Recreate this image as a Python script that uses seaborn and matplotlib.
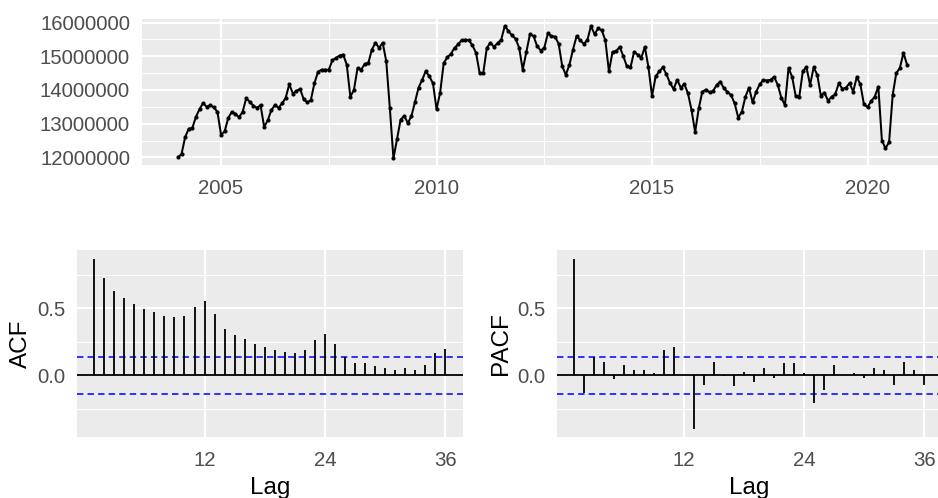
import numpy as np
import pandas as pd
import matplotlib
matplotlib.use("Agg")
import matplotlib.pyplot as plt
import seaborn as sns
from matplotlib.ticker import FixedLocator, FuncFormatter

# Monthly series (millions), January 2004 to December 2020
start_year = 2004
series_millions = [
    12.00, 12.10, 12.60, 12.85, 12.87, 13.20, 13.43, 13.61, 13.50, 13.55, 13.48, 13.35,
    12.67, 12.77, 13.17, 13.35, 13.29, 13.19, 13.35, 13.75, 13.65, 13.53, 13.47, 13.55,
    12.90, 13.10, 13.40, 13.55, 13.47, 13.60, 13.77, 14.17, 13.89, 13.97, 14.03, 13.73,
    13.63, 13.70, 14.20, 14.54, 14.60, 14.60, 14.60, 14.88, 14.95, 15.02, 15.05, 14.75,
    13.80, 14.00, 14.65, 14.60, 14.77, 14.80, 15.20, 15.40, 15.25, 15.40, 14.85, 13.45,
    11.97, 12.55, 13.12, 13.23, 13.02, 13.22, 13.65, 14.07, 14.30, 14.56, 14.40, 14.20,
    13.43, 13.92, 14.80, 14.97, 15.07, 15.25, 15.35, 15.48, 15.49, 15.48, 15.32, 15.10,
    14.50, 14.50, 15.25, 15.40, 15.28, 15.39, 15.49, 15.90, 15.75, 15.62, 15.52, 15.25,
    14.60, 15.13, 15.65, 15.60, 15.30, 15.17, 15.25, 15.68, 15.60, 15.58, 15.37, 14.70,
    14.45, 14.75, 15.20, 15.60, 15.47, 15.37, 15.48, 15.90, 15.65, 15.83, 15.77, 15.47,
    14.55, 15.13, 15.15, 15.28, 15.00, 14.70, 14.67, 15.13, 15.05, 14.95, 15.28, 14.67,
    13.82, 14.40, 14.55, 14.67, 14.47, 14.20, 14.03, 14.30, 14.07, 14.17, 13.90, 13.40,
    12.75, 13.45, 13.95, 14.01, 13.93, 13.97, 14.15, 14.25, 14.05, 13.94, 13.85, 13.60,
    13.18, 13.35, 13.80, 14.07, 13.63, 13.95, 14.17, 14.30, 14.28, 14.30, 14.39, 14.15,
    13.77, 13.55, 14.65, 14.39, 13.82, 13.80, 14.57, 14.67, 14.15, 14.67, 14.45, 13.83,
    13.92, 13.68, 13.80, 13.87, 14.20, 14.03, 14.07, 14.20, 13.95, 14.38, 14.17, 13.57,
    13.49, 13.67, 13.80, 14.10, 12.50, 12.27, 12.45, 13.85, 14.50, 14.65, 15.10, 14.75,
]

# Autocorrelations, lags 1..36
lags = list(range(1, 37))
acf_values = [
    0.872, 0.728, 0.630, 0.580, 0.533, 0.495, 0.470, 0.445, 0.433, 0.445, 0.508, 0.555,
    0.458, 0.348, 0.298, 0.275, 0.238, 0.213, 0.188, 0.175, 0.165, 0.188, 0.263, 0.310,
    0.238, 0.140, 0.090, 0.090, 0.068, 0.055, 0.043, 0.055, 0.043, 0.080, 0.165, 0.200,
]
pacf_values = [
    0.872, -0.128, 0.135, 0.100, -0.028, 0.078, 0.040, 0.040, 0.015, 0.188, 0.213, 0.004,
    -0.398, -0.068, 0.100, -0.004, -0.080, 0.028, -0.048, 0.053, -0.018, 0.090, 0.090, 0.015,
    -0.203, -0.105, 0.078, 0.004, 0.015, -0.018, 0.053, 0.040, -0.068, 0.100, 0.040, -0.068,
]
time_ticks = [2005, 2010, 2015, 2020]
value_ticks = [12000000, 13000000, 14000000, 15000000, 16000000]
lag_ticks = [12, 24, 36]
corr_ticks = [0.0, 0.5]

sns.set_theme(style="darkgrid")
plt.rcParams["font.family"] = ["Liberation Sans", "DejaVu Sans"]
plt.rcParams["lines.scale_dashes"] = False

PANEL = "#EBEBEB"
TICK_COL = "#333333"
LABEL_COL = "#4D4D4D"
TICK_SIZE = 14.7
TITLE_SIZE = 17.5

W, H = 938, 498
fig = plt.figure(figsize=(W / 100, H / 100), dpi=100)


def box(left, top, right, bottom):
    return [left / W, 1 - bottom / H, (right - left) / W, (bottom - top) / H]


def expand(lo, hi, frac=0.05):
    span = hi - lo
    return lo - frac * span, hi + frac * span


def style_axes(ax):
    ax.set_facecolor(PANEL)
    for s in ax.spines.values():
        s.set_visible(False)
    ax.grid(False)
    ax.grid(which="major", color="white", linewidth=1.45)
    ax.grid(which="minor", color="white", linewidth=0.75)
    ax.set_axisbelow(True)
    ax.tick_params(which="major", length=4.7, width=1.05, color=TICK_COL,
                   labelcolor=LABEL_COL, labelsize=TICK_SIZE)
    ax.tick_params(axis="y", pad=3.5)
    ax.tick_params(axis="x", pad=5.5)
    ax.tick_params(which="minor", length=0)


# ---- time series panel ----
ax_ts = fig.add_axes(box(141.5, 19.3, 943.5, 165))
n = len(series_millions)
df = pd.DataFrame({
    "time": start_year + np.arange(n) / 12.0,
    "value": np.array(series_millions) * 1e6,
})
sns.lineplot(data=df, x="time", y="value", ax=ax_ts, color="black", linewidth=1.45)
sns.scatterplot(data=df, x="time", y="value", ax=ax_ts, color="black", s=9,
                linewidth=0, zorder=3)
ax_ts.set_xlim(*expand(df.time.min(), df.time.max()))
ax_ts.set_ylim(*expand(df.value.min(), df.value.max()))
ax_ts.xaxis.set_major_locator(FixedLocator(time_ticks))
ax_ts.xaxis.set_minor_locator(FixedLocator([t + 2.5 for t in time_ticks[:-1]]))
ax_ts.yaxis.set_major_locator(FixedLocator(value_ticks))
ax_ts.yaxis.set_minor_locator(FixedLocator([v + 500000 for v in value_ticks[:-1]]))
ax_ts.yaxis.set_major_formatter(FuncFormatter(lambda v, p: f"{v:.0f}"))
ax_ts.xaxis.set_major_formatter(FuncFormatter(lambda v, p: f"{v:.0f}"))
ax_ts.set_xlabel("")
ax_ts.set_ylabel("")
style_axes(ax_ts)

# ---- correlogram panels ----
ci = 1.96 / np.sqrt(n)
ylo, yhi = expand(min(min(acf_values), min(pacf_values), -ci),
                  max(max(acf_values), max(pacf_values), ci))
xlo, xhi = expand(min(lags), max(lags))

ax_acf = fig.add_axes(box(76.7, 250, 462.7, 437.3))
ax_pacf = fig.add_axes(box(556.5, 250, 941.8, 437.3))

for ax, vals, name in [(ax_acf, acf_values, "ACF"), (ax_pacf, pacf_values, "PACF")]:
    ax.axhline(0, color="black", linewidth=1.3, zorder=2)
    ax.vlines(lags, 0, vals, color="black", linewidth=1.3, zorder=3)
    for c in (ci, -ci):
        ax.axhline(c, color="blue", linewidth=1.1, linestyle=(0, (4.6, 3.0)), zorder=2)
    ax.set_xlim(xlo, xhi)
    ax.set_ylim(ylo, yhi)
    ax.xaxis.set_major_locator(FixedLocator(lag_ticks))
    ax.xaxis.set_minor_locator(FixedLocator([]))
    ax.yaxis.set_major_locator(FixedLocator(corr_ticks))
    ax.yaxis.set_minor_locator(FixedLocator([-0.25, 0.25, 0.75]))
    ax.yaxis.set_major_formatter(FuncFormatter(lambda v, p: f"{v:.1f}"))
    style_axes(ax)
    ax.set_xlabel("Lag", fontsize=TITLE_SIZE, color="black", labelpad=5)
    ax.set_ylabel(name, fontsize=TITLE_SIZE, color="black", labelpad=3.5)

fig.savefig("out.png", dpi=100, facecolor="white")
